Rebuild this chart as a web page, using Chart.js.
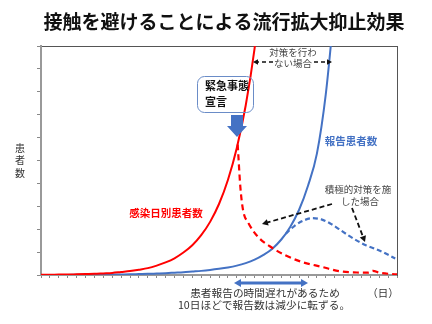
<!DOCTYPE html>
<html><head><meta charset="utf-8">
<script src="https://cdn.jsdelivr.net/npm/chart.js@4/dist/chart.umd.min.js"></script>
<style>html,body{margin:0;padding:0;background:#fff;}#wrap{width:432px;height:324px;position:relative;}</style>
</head><body><div id="wrap"><canvas id="c" width="432" height="324"></canvas></div>
<script>
const titleText = "接触を避けることによる流行拡大抑止効果";
const yAxisLabel = ["患", "者", "数"];
const xUnitLabel = "（日）";
const noteLines = ["患者報告の時間遅れがあるため", "10日ほどで報告数は減少に転ずる。"];

// infection-date cases, no measures (solid red)
const infectionDays = [0,1,2,3,4,5,6,7,8,9,10,11,12,13,14,15,16,17,18,19,20,21,22,23,24,25];
const infectionValues = [0.01,0.01,0.02,0.02,0.03,0.04,0.05,0.07,0.09,0.13,0.17,0.23,0.30,0.41,0.55,0.73,0.98,1.30,1.74,2.32,3.10,4.15,5.55,7.40,9.90,13.2];
// infection-date cases, with measures (dashed red)
const infectionMeasureDays = [22.1,22.4,22.7,23.3,24.4,26.0,27.4,29.3,31.6,33.6,35.5,36.8,37.3,38.0,40.0];
const infectionMeasureValues = [5.7,3.84,2.84,2.27,1.66,1.18,0.87,0.57,0.35,0.16,0.11,0.10,0.18,0.10,0.03];
// reported cases, no measures (solid blue)
const reportedDays = [0,1,2,3,4,5,6,7,8,9,10,11,12,13,14,15,16,17,18,19,20,21,22,23,24,25,26,27,28,29,30,31,32,33];
const reportedValues = [0.002,0.003,0.004,0.005,0.007,0.009,0.012,0.016,0.02,0.025,0.03,0.04,0.05,0.065,0.08,0.10,0.12,0.15,0.18,0.22,0.27,0.33,0.41,0.52,0.67,0.88,1.15,1.55,2.1,2.85,3.9,5.3,7.9,11.8];
// reported cases, with measures (dashed blue)
const reportedMeasureDays = [27.5,28.5,29.5,30.5,31.5,32.5,33.5,34.5,35.5,36.5,37.5,38.5,39.8];
const reportedMeasureValues = [1.8,2.15,2.38,2.48,2.43,2.25,2.0,1.74,1.5,1.3,1.15,0.98,0.72];

const pts = (xs, ys) => xs.map((x, i) => ({x, y: ys[i]}));
const FONT = '"Noto Sans CJK JP", "Noto Sans", sans-serif';
const RED = '#ff0000', BLUE = '#4472c4';

function arrowHead(ctx, x1, y1, x2, y2, len, w, color) {
  const a = Math.atan2(y2 - y1, x2 - x1);
  ctx.save();
  ctx.setLineDash([]);
  ctx.fillStyle = color;
  ctx.beginPath();
  ctx.moveTo(x2, y2);
  ctx.lineTo(x2 - len * Math.cos(a) + w * Math.sin(a), y2 - len * Math.sin(a) - w * Math.cos(a));
  ctx.lineTo(x2 - len * Math.cos(a) - w * Math.sin(a), y2 - len * Math.sin(a) + w * Math.cos(a));
  ctx.closePath();
  ctx.fill();
  ctx.restore();
}
function dashedArrow(ctx, x1, y1, x2, y2, color, lw, dash, head) {
  const a = Math.atan2(y2 - y1, x2 - x1);
  ctx.save();
  ctx.strokeStyle = color; ctx.lineWidth = lw; ctx.setLineDash(dash);
  ctx.beginPath(); ctx.moveTo(x1, y1);
  ctx.lineTo(x2 - head * 0.8 * Math.cos(a), y2 - head * 0.8 * Math.sin(a));
  ctx.stroke();
  ctx.restore();
  arrowHead(ctx, x1, y1, x2, y2, head, head * 0.55, color);
}

const overlay = {
  id: 'overlay',
  afterDraw(chart) {
    const ctx = chart.ctx;
    ctx.save();
    ctx.textAlign = 'center'; ctx.textBaseline = 'middle';
    // title
    ctx.fillStyle = '#111'; ctx.font = 'bold 19px ' + FONT;
    ctx.fillText(titleText, 224, 22);
    // y label vertical
    ctx.fillStyle = '#333'; ctx.font = '10px ' + FONT;
    yAxisLabel.forEach((ch, i) => ctx.fillText(ch, 20, 148 + i * 12.5));
    // x unit
    ctx.font = '10.5px ' + FONT;
    ctx.fillText(xUnitLabel, 383, 293);
    // note under axis
    ctx.font = '10.7px ' + FONT;
    ctx.fillText(noteLines[0], 265, 293);
    ctx.fillText(noteLines[1], 264, 305);
    // blue double arrow
    ctx.strokeStyle = BLUE; ctx.lineWidth = 3; ctx.setLineDash([]);
    ctx.beginPath(); ctx.moveTo(239, 283); ctx.lineTo(303, 283); ctx.stroke();
    arrowHead(ctx, 260, 283, 234, 283, 7, 4, BLUE);
    arrowHead(ctx, 280, 283, 308, 283, 7, 4, BLUE);
    // series labels
    ctx.font = 'bold 10.5px ' + FONT;
    ctx.fillStyle = RED; ctx.fillText('感染日別患者数', 166, 213);
    ctx.fillStyle = BLUE; ctx.fillText('報告患者数', 351, 141);
    // "no measures" annotation
    ctx.fillStyle = '#444'; ctx.font = '9.5px ' + FONT;
    ctx.fillText('対策を行わ', 293, 52);
    ctx.fillText('ない場合', 293, 63);
    dashedArrow(ctx, 273, 62, 253, 62, '#111', 1.5, [4, 3], 5);
    dashedArrow(ctx, 314, 62, 332, 62, '#111', 1.5, [4, 3], 5);
    // "active measures" annotation
    ctx.fillStyle = '#444';
    ctx.fillText('積極的対策を施', 358, 189);
    ctx.fillText('した場合', 360, 201);
    dashedArrow(ctx, 332, 204, 262, 224, '#111', 1.8, [5, 3], 6);
    dashedArrow(ctx, 352, 208, 365, 242, '#111', 1.8, [5, 3], 6);
    // emergency declaration box
    ctx.strokeStyle = '#6a8cc7'; ctx.lineWidth = 1; ctx.setLineDash([]);
    ctx.beginPath(); ctx.roundRect(197.5, 76.5, 56, 36, 7); ctx.stroke();
    ctx.fillStyle = '#111'; ctx.font = 'bold 11px ' + FONT; ctx.textAlign = 'left';
    ctx.fillText('緊急事態', 205, 86);
    ctx.fillText('宣言', 205, 102);
    // block arrow
    ctx.fillStyle = BLUE;
    ctx.beginPath();
    ctx.moveTo(231, 115); ctx.lineTo(243, 115); ctx.lineTo(243, 126); ctx.lineTo(247, 126);
    ctx.lineTo(237, 137); ctx.lineTo(227, 126); ctx.lineTo(231, 126); ctx.closePath(); ctx.fill();
    ctx.restore();
  }
};

new Chart(document.getElementById('c'), {
  type: 'line',
  data: {
    datasets: [
      {data: pts(infectionDays, infectionValues), borderColor: RED, borderWidth: 2, pointRadius: 0, cubicInterpolationMode: 'monotone'},
      {data: pts(infectionMeasureDays, infectionMeasureValues), borderColor: RED, borderWidth: 2.2, borderDash: [6, 4], pointRadius: 0, cubicInterpolationMode: 'monotone'},
      {data: pts(reportedDays, reportedValues), borderColor: BLUE, borderWidth: 2, pointRadius: 0, cubicInterpolationMode: 'monotone'},
      {data: pts(reportedMeasureDays, reportedMeasureValues), borderColor: BLUE, borderWidth: 2.2, borderDash: [5, 3], pointRadius: 0, cubicInterpolationMode: 'monotone'}
    ]
  },
  options: {
    responsive: false, animation: false, devicePixelRatio: 1,
    layout: {padding: 0},
    plugins: {legend: {display: false}, title: {display: false}, tooltip: {enabled: false}},
    scales: {
      x: {type: 'linear', position: 'bottom', min: 0, max: 40,
          ticks: {display: false, stepSize: 1, autoSkip: false},
          grid: {drawOnChartArea: false, drawTicks: true, tickLength: 3, color: '#888', lineWidth: 1},
          border: {display: true, color: '#999', width: 2},
          afterFit: s => { s.height = 49; }},
      x2: {type: 'linear', position: 'top', min: 0, max: 40,
          ticks: {display: false}, grid: {display: false},
          border: {display: true, color: '#555', width: 1},
          afterFit: s => { s.height = 46; }},
      y: {type: 'linear', position: 'left', min: 0, max: 10,
          ticks: {display: false, stepSize: 1},
          grid: {drawOnChartArea: false, drawTicks: true, tickLength: 4, color: '#888', lineWidth: 1},
          border: {display: true, color: '#999', width: 2},
          afterFit: s => { s.width = 41; }},
      y2: {type: 'linear', position: 'right', min: 0, max: 10,
          ticks: {display: false}, grid: {display: false},
          border: {display: true, color: '#555', width: 1},
          afterFit: s => { s.width = 35; }}
    }
  },
  plugins: [overlay]
});
</script></body></html>
